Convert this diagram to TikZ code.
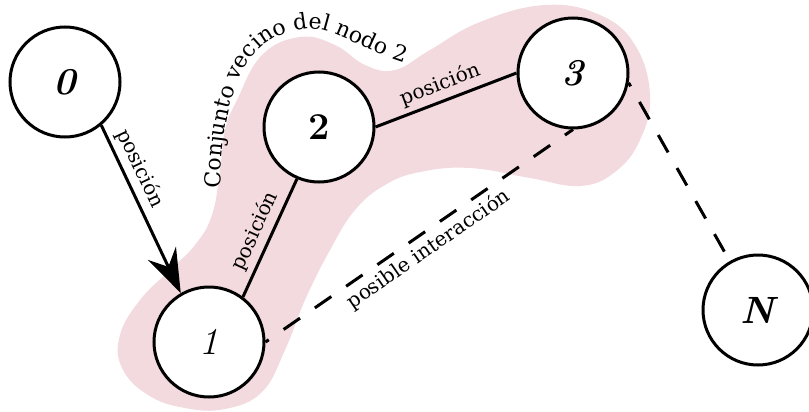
\documentclass[tikz,border=0pt]{standalone}
\usepackage{fontspec}
\newfontfamily\etiq{DejaVu Serif}
\usetikzlibrary{arrows.meta,decorations.text}

\definecolor{vecino}{RGB}{242,218,222}

\begin{document}
\begin{tikzpicture}[x=0.5pt,y=-0.5pt,
  nodo/.style={circle,draw,line width=1.5pt,minimum size=55pt,inner sep=0pt,
    fill=white,font=\fontsize{19}{22}\selectfont\bfseries\itshape},
  enlace/.style={line width=1.5pt},
  posible/.style={enlace,dash pattern=on 10pt off 9pt,dash phase=8pt},
  etiqueta/.style={font=\etiq\fontsize{10}{12}\selectfont,sloped,inner sep=2.5pt}]

\useasboundingbox (0,0) rectangle (809,412);

% region around node 2 and its neighbours
\fill[vecino] plot[smooth cycle,tension=0.7] coordinates {
  (237,100) (262,55) (300,37) (335,45) (365,65) (395,70) (430,50) (480,22)
  (545,5) (600,15) (635,45) (650,95) (640,140) (615,172) (580,186) (530,178)
  (470,168) (420,172) (385,185) (355,210) (330,250) (305,300) (285,350)
  (262,392) (225,409) (185,408) (148,395) (122,368) (120,335) (140,300)
  (170,270) (195,245) (212,215) (220,170) (225,130)};

\draw[decoration={text along path,text align={center},
    text={|\etiq\fontsize{11}{13}\selectfont|Conjunto vecino del nodo 2}},decorate]
  (220,196) .. controls (222,80) and (250,35) .. (305,29)
  .. controls (330,24) and (370,55) .. (412,65);

% the nodes
\node[nodo] (n0) at (65,82) {0};
\node[nodo,font=\fontsize{19}{22}\selectfont\itshape] (n1) at (209,342) {1};
\node[nodo,font=\fontsize{19}{22}\selectfont\bfseries] (n2) at (319,127) {2};
\node[nodo] (n3) at (573,73) {3};
\node[nodo] (nN) at (758,310) {N};

% links
\draw[enlace,-{Stealth[length=22pt,width=15.5pt,inset=7.5pt]}] (n0.-50) --
  node[etiqueta,above,pos=0.3] {posición} (n1.120);
\draw[enlace] (n1.53) -- node[etiqueta,above] {posición} (n2.-113);
\draw[enlace] (n2.east) -- node[etiqueta,above] {posición} (n3.west);
\draw[posible] (n1.east) -- node[etiqueta,below] {posible interacción} (n3.south);
\draw[posible] (n3.-10) -- (nN.120);

\end{tikzpicture}
\end{document}
